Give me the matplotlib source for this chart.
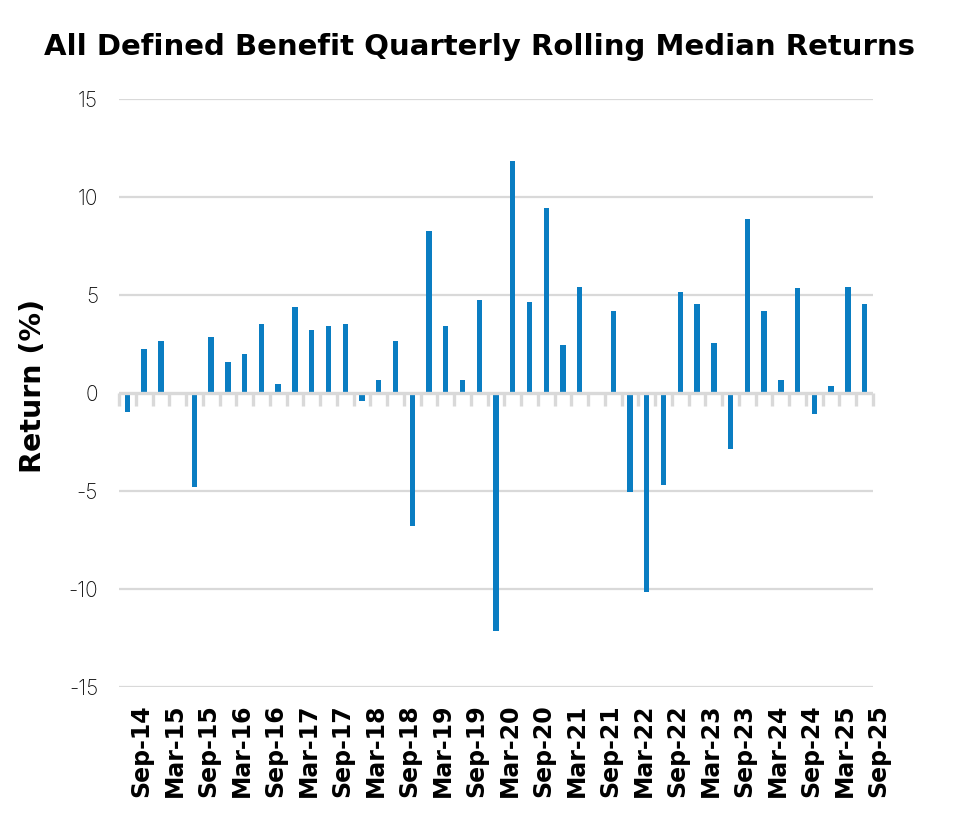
import matplotlib
matplotlib.use("Agg")
import matplotlib.pyplot as plt
import matplotlib.transforms as mtransforms
import numpy as np

quarters = ["Sep-14", "Dec-14", "Mar-15", "Jun-15", "Sep-15", "Dec-15", "Mar-16", "Jun-16",
            "Sep-16", "Dec-16", "Mar-17", "Jun-17", "Sep-17", "Dec-17", "Mar-18", "Jun-18",
            "Sep-18", "Dec-18", "Mar-19", "Jun-19", "Sep-19", "Dec-19", "Mar-20", "Jun-20",
            "Sep-20", "Dec-20", "Mar-21", "Jun-21", "Sep-21", "Dec-21", "Mar-22", "Jun-22",
            "Sep-22", "Dec-22", "Mar-23", "Jun-23", "Sep-23", "Dec-23", "Mar-24", "Jun-24",
            "Sep-24", "Dec-24", "Mar-25", "Jun-25", "Sep-25"]
returns = [-0.95, 2.28, 2.67, 0.0, -4.76, 2.86, 1.62, 2.01, 3.54, 0.48,
           4.39, 3.25, 3.45, 3.54, -0.37, 0.66, 2.69, -6.79, 8.30, 3.45,
           0.66, 4.78, -12.14, 11.84, 4.68, 9.46, 2.48, 5.44, 0.0, 4.20,
           -5.05, -10.14, -4.66, 5.15, 4.57, 2.59, -2.84, 8.88, 4.20, 0.66,
           5.36, -1.04, 0.37, 5.44, 4.57]
y_ticks = [-15, -10, -5, 0, 5, 10, 15]

BAR = "#0a7dc2"
GRID = "#d9d9d9"
plt.rcParams["font.family"] = ["DejaVu Sans"]

fig = plt.figure(figsize=(9.6, 8.3), dpi=100)
ax = fig.add_axes([119/960, 1 - 687.3/830, (873-119)/960, (687.3-99.3)/830])

x = np.arange(len(quarters))
ax.bar(x, returns, width=0.32, color=BAR, zorder=3)

ax.set_xlim(-0.5, len(quarters) - 0.5)
ax.set_ylim(-15, 15)
ax.set_yticks(y_ticks)
ax.set_yticklabels([str(v) for v in y_ticks], fontsize=15, fontweight="light",
                   color="#111111", family=["Inter", "DejaVu Sans"])
for v in y_ticks:
    if v != 0:
        ax.axhline(v, color=GRID, lw=1.6, zorder=1)
ax.axhline(0, color=GRID, lw=2.4, zorder=4)

for s in ax.spines.values():
    s.set_visible(False)
ax.tick_params(axis="y", length=0, pad=15)

# category labels every second quarter
lab_idx = x[::2]
ax.set_xticks(lab_idx)
ax.set_xticklabels([quarters[i] for i in lab_idx], rotation=90, fontsize=17,
                   fontweight="bold", ha="center", va="top")
ax.tick_params(axis="x", length=0, pad=12)
offset = mtransforms.ScaledTranslation(13.5/100, 0, fig.dpi_scale_trans)
for lbl in ax.get_xticklabels():
    lbl.set_transform(lbl.get_transform() + offset)

# boundary ticks under the zero line
sec = ax.secondary_xaxis(0.5)
sec.set_xticks(np.arange(len(quarters) + 1) - 0.5)
sec.set_xticklabels([])
sec.tick_params(axis="x", direction="in", length=9, width=2.4, color=GRID)
for s in sec.spines.values():
    s.set_visible(False)

ax.set_ylabel("Return (%)", fontsize=20.5, fontweight="bold")
ax.yaxis.set_label_coords(-(119-47)/754, 0.5 - (386-393)/588)

fig.text(0.5, 1 - 47/830, "All Defined Benefit Quarterly Rolling Median Returns",
         ha="center", va="center", fontsize=21, fontweight="bold")

fig.savefig("out.png", dpi=100, facecolor="white")
